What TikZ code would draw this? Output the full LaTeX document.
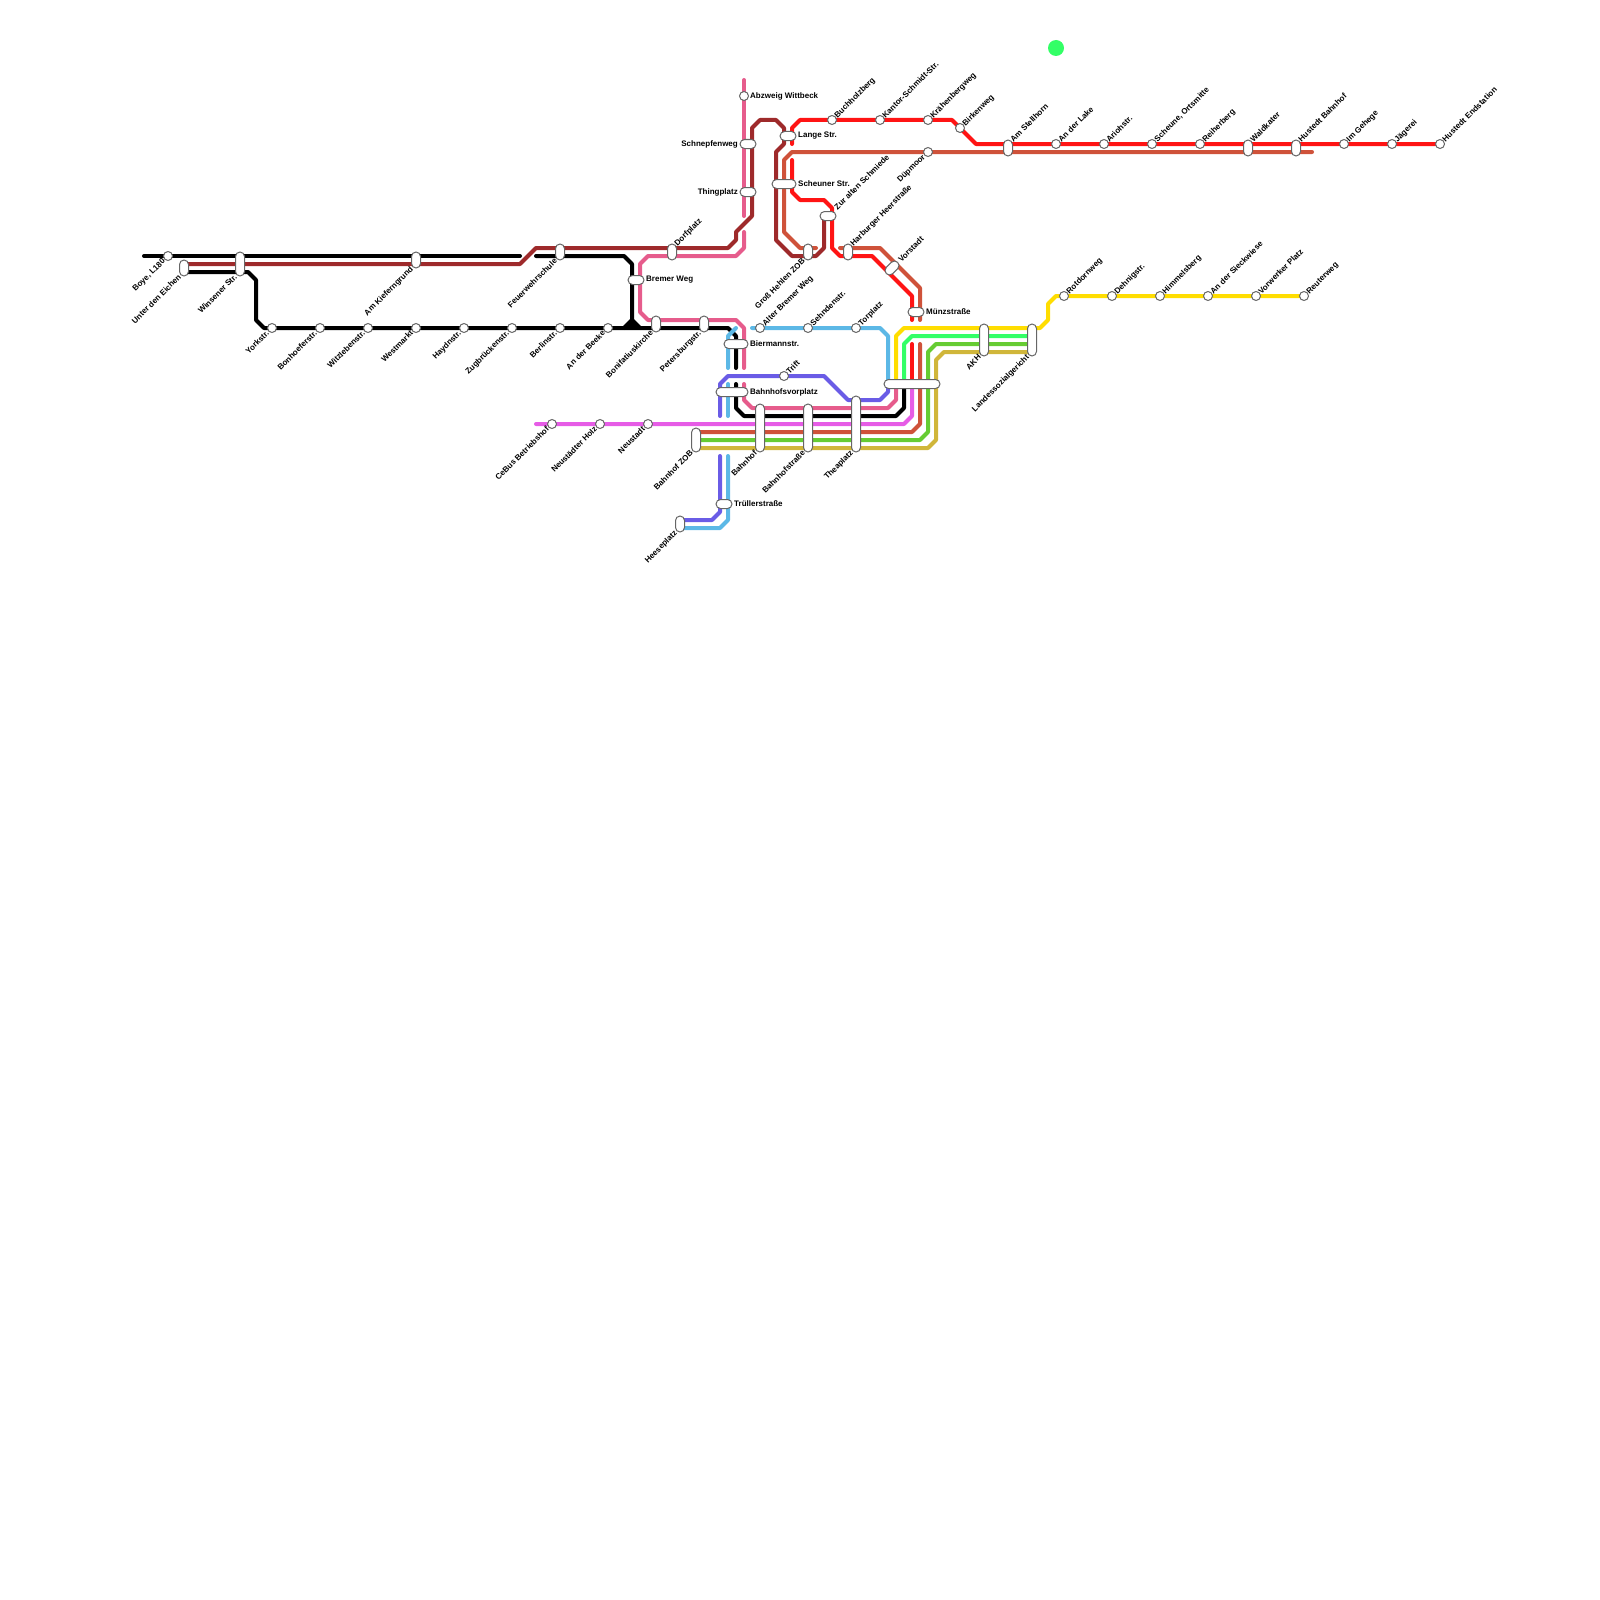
\documentclass[tikz,border=0pt]{standalone}
\usepackage{fontspec}
\setmainfont{Liberation Sans}
\usepackage{xcolor}
\usetikzlibrary{positioning,calc}
\definecolor{lnred}{HTML}{FF1414}
\definecolor{lnbrick}{HTML}{CF523A}
\definecolor{lnbrown}{HTML}{9E2A2B}
\definecolor{lnpink}{HTML}{E65C8C}
\definecolor{lnsky}{HTML}{5CB8E6}
\definecolor{lnviolet}{HTML}{6A5CE6}
\definecolor{lnmagenta}{HTML}{E65CE6}
\definecolor{lnyellow}{HTML}{FFDD00}
\definecolor{lngreen}{HTML}{33FF66}
\definecolor{lnlime}{HTML}{66CC33}
\definecolor{lngold}{HTML}{D0B63A}
\definecolor{stnedge}{HTML}{666666}
\pgfdeclarelayer{lines}
\pgfsetlayers{lines,main}
\tikzset{
  ln/.style={line width=4pt,line cap=round,line join=round},
  stn/.style={circle,draw=stnedge,fill=white,line width=1pt,inner sep=0pt,minimum size=9pt},
  stnh/.style={rectangle,rounded corners=4.5pt,draw=stnedge,fill=white,line width=1pt,inner sep=0pt,minimum height=9pt,minimum width=#1pt},
  stnv/.style={rectangle,rounded corners=4.5pt,draw=stnedge,fill=white,line width=1pt,inner sep=0pt,minimum width=9pt,minimum height=#1pt},
  lbl/.style={font=\bfseries\fontsize{8}{9}\selectfont,inner sep=0pt},
  lblur/.style={lbl,xshift=5.5pt,yshift=1.5pt,rotate=45,anchor=base west},
  lbldl/.style={lbl,xshift=-2.3pt,yshift=-5.7pt,rotate=45,anchor=base east},
  lblr/.style={lbl,anchor=west},
  lbll/.style={lbl,anchor=east},
}
\begin{document}
\begin{tikzpicture}[x=1pt,y=-1pt]
  \useasboundingbox (0,0) rectangle (1600,1600);
  \node[circle,fill=lngreen,minimum size=16pt,inner sep=0pt] (dot) at (1056,48) {};

  % stations on the lower west branch
  \node[stn] (boye) at (168,256) {};
  \node[stnv=16] (eichen) at (184,268) {};
  \node[stnv=24] (winsen) at (240,264) {};
  \node[stnv=16] (kiefern) at (416,260) {};
  \node[stn] (york) at (272,328) {};
  \node[stn] (bonhoefer) at (320,328) {};
  \node[stn] (witzleben) at (368,328) {};
  \node[stn] (westmarkt) at (416,328) {};
  \node[stn] (haydn) at (464,328) {};
  \node[stn] (zugbruecke) at (512,328) {};
  \node[stn] (berlin) at (560,328) {};
  \node[stn] (beeke) at (608,328) {};
  \node[stnv=16] (bonifatius) at (656,324) {};
  \node[stnv=16] (petersburg) at (704,324) {};
  \node[stnv=16] (feuerwehr) at (560,252) {};
  \node[stnv=16] (dorfplatz) at (672,252) {};
  \node[stnh=16] (bremer) at (636,280) {};

  % north
  \node[stn] (wittbeck) at (744,96) {};
  \node[stnh=16] (schnepfen) at (748,144) {};
  \node[stnh=16] (thing) at (748,192) {};
  \node[stnh=16] (lange) at (788,136) {};
  \node[stnh=24] (scheuner) at (784,184) {};
  \node[stnh=16] (schmiede) at (828,216) {};
  \node[stnv=16] (hehlen) at (808,252) {};
  \node[stnv=16] (harburger) at (848,252) {};
  \node[stnh=16,rotate=45] (vorstadt) at (892,268) {};
  \node[stnh=16] (muenz) at (916,312) {};
  \node[stn] (duepmoor) at (928,152) {};
  \node[stn] (buchholz) at (832,120) {};
  \node[stn] (kantor) at (880,120) {};
  \node[stn] (kraehen) at (928,120) {};
  \node[stn] (birken) at (960,128) {};
  \node[stnv=16] (stellhorn) at (1008,148) {};
  \node[stn] (lake) at (1056,144) {};
  \node[stn] (arioh) at (1104,144) {};
  \node[stn] (scheune) at (1152,144) {};
  \node[stn] (reiher) at (1200,144) {};
  \node[stnv=16] (waldkater) at (1248,148) {};
  \node[stnv=16] (hustedtbf) at (1296,148) {};
  \node[stn] (gehege) at (1344,144) {};
  \node[stn] (jaegerei) at (1392,144) {};
  \node[stn] (hustedtend) at (1440,144) {};

  % centre
  \node[stn] (aller) at (760,328) {};
  \node[stn] (sehnde) at (808,328) {};
  \node[stn] (torplatz) at (856,328) {};
  \node[stnh=24] (biermann) at (736,344) {};
  \node[stnh=32] (vorplatz) at (732,392) {};
  \node[stn] (trift) at (784,376) {};
  \node[stnv=48] (bahnhof) at (760,428) {};
  \node[stnv=48] (bahnhofstr) at (808,428) {};
  \node[stnv=56] (thea) at (856,424) {};
  \node[stnv=24] (zob) at (696,440) {};
  \node[stnh=56] (knoten) at (912,384) {};
  \node[stnh=16] (truller) at (724,504) {};
  \node[stnv=16] (heese) at (680,524) {};
  \node[stn] (cebus) at (552,424) {};
  \node[stn] (holz) at (600,424) {};
  \node[stn] (neustadt) at (648,424) {};

  % east
  \node[stnv=32] (akh) at (984,340) {};
  \node[stnv=32] (landes) at (1032,340) {};
  \node[stn] (rotdorn) at (1064,296) {};
  \node[stn] (dehnig) at (1112,296) {};
  \node[stn] (himmel) at (1160,296) {};
  \node[stn] (sieck) at (1208,296) {};
  \node[stn] (vorwerk) at (1256,296) {};
  \node[stn] (reuter) at (1304,296) {};

  % labels
  \node[lbldl] (boyeT) at (boye) {Boye, L180};
  \node[lbldl] (eichenT) at (184,272) {Unter den Eichen};
  \node[lbldl] (winsenT) at (240,272) {Winsener Str.};
  \node[lbldl] (kiefernT) at (416,264) {Am Kieferngrund};
  \node[lbldl] (yorkT) at (york) {Yorkstr.};
  \node[lbldl] (bonhoeferT) at (bonhoefer) {Bonhoeferstr.};
  \node[lbldl] (witzlebenT) at (witzleben) {Witzlebenstr.};
  \node[lbldl] (westmarktT) at (westmarkt) {Westmarkt};
  \node[lbldl] (haydnT) at (haydn) {Haydnstr.};
  \node[lbldl] (zugbrueckeT) at (zugbruecke) {Zugbrückenstr.};
  \node[lbldl] (berlinT) at (berlin) {Berlinstr.};
  \node[lbldl] (beekeT) at (beeke) {An der Beeke};
  \node[lbldl] (bonifatiusT) at (656,328) {Bonifatiuskirche};
  \node[lbldl] (petersburgT) at (704,328) {Petersburgstr.};
  \node[lbldl] (feuerwehrT) at (560,256) {Feuerwehrschule};
  \node[lblur] (dorfplatzT) at (672,248) {Dorfplatz};
  \node[lblr] (bremerT) at (646,280) {Bremer Weg};
  \node[lblr] (wittbeckT) at (750,96) {Abzweig Wittbeck};
  \node[lbll] (schnepfenT) at (738,144) {Schnepfenweg};
  \node[lbll] (thingT) at (738,192) {Thingplatz};
  \node[lblr] (langeT) at (798,136) {Lange Str.};
  \node[lblr] (scheunerT) at (798,184) {Scheuner Str.};
  \node[lblur] (schmiedeT) at (832,212) {Zur alten Schmiede};
  \node[lbldl] (hehlenT) at (808,256) {Groß Hehlen ZOB};
  \node[lblur] (harburgerT) at (848,248) {Harburger Heerstraße};
  \node[lblur] (vorstadtT) at (896,264) {Vorstadt};
  \node[lblr] (muenzT) at (926,312) {Münzstraße};
  \node[lbldl] (duepmoorT) at (duepmoor) {Düpmoor};
  \node[lblur] (buchholzT) at (buchholz) {Buchholzberg};
  \node[lblur] (kantorT) at (kantor) {Kantor-Schmidt-Str.};
  \node[lblur] (kraehenT) at (kraehen) {Krähenbergweg};
  \node[lblur] (birkenT) at (birken) {Birkenweg};
  \node[lblur] (stellhornT) at (1008,144) {Am Stellhorn};
  \node[lblur] (lakeT) at (lake) {An der Lake};
  \node[lblur] (ariohT) at (arioh) {Ariohstr.};
  \node[lblur] (scheuneT) at (scheune) {Scheune, Ortsmitte};
  \node[lblur] (reiherT) at (reiher) {Reiherberg};
  \node[lblur] (waldkaterT) at (1248,144) {Waldkater};
  \node[lblur] (hustedtbfT) at (1296,144) {Hustedt Bahnhof};
  \node[lblur] (gehegeT) at (gehege) {Im Gehege};
  \node[lblur] (jaegereiT) at (jaegerei) {Jägerei};
  \node[lblur] (hustedtendT) at (hustedtend) {Hustedt Endstation};
  \node[lblur] (allerT) at (aller) {Alter Bremer Weg};
  \node[lblur] (sehndeT) at (sehnde) {Sehndenstr.};
  \node[lblur] (torplatzT) at (torplatz) {Torplatz};
  \node[lblr] (biermannT) at (750,344) {Biermannstr.};
  \node[lblr] (vorplatzT) at (750,392) {Bahnhofsvorplatz};
  \node[lblur] (triftT) at (trift) {Trift};
  \node[lbldl] (bahnhofT) at (760,448) {Bahnhof};
  \node[lbldl] (bahnhofstrT) at (808,448) {Bahnhofstraße};
  \node[lbldl] (theaT) at (856,448) {Theaplatz};
  \node[lbldl] (zobT) at (696,448) {Bahnhof ZOB};
  \node[lblr] (trullerT) at (734,504) {Trüllerstraße};
  \node[lbldl] (heeseT) at (680,528) {Heeseplatz};
  \node[lbldl] (cebusT) at (cebus) {CeBus Betriebshof};
  \node[lbldl] (holzT) at (holz) {Neustädter Holz};
  \node[lbldl] (neustadtT) at (neustadt) {Neustadt};
  \node[lbldl] (akhT) at (984,352) {AKH};
  \node[lbldl] (landesT) at (1032,352) {Landessozialgericht};
  \node[lblur] (rotdornT) at (rotdorn) {Rotdornweg};
  \node[lblur] (dehnigT) at (dehnig) {Dehnigstr.};
  \node[lblur] (himmelT) at (himmel) {Himmelsberg};
  \node[lblur] (sieckT) at (sieck) {An der Sieckwiese};
  \node[lblur] (vorwerkT) at (vorwerk) {Vorwerker Platz};
  \node[lblur] (reuterT) at (reuter) {Reuterweg};

  % the lines, under the stations
  \begin{pgfonlayer}{lines}
    \draw[ln,black] (144,256) -- (520,256);
    \draw[ln,black] (184,272) -- (248,272) -- (256,280) -- (256,320) -- (264,328) -- (640,328);
    \draw[ln,black] (536,256) -- (624,256) -- (632,264) -- (632,320) -- (624,328);
    \draw[ln,black] (632,320) -- (640,328) -- (728,328) -- (736,336) -- (736,368);
    \fill[black] (632,320) -- (624,328) -- (640,328) -- cycle;
    \draw[ln,black] (736,384) -- (736,408) -- (744,416) -- (896,416) -- (904,408) -- (904,384);
    \draw[ln,lnbrown] (184,264) -- (520,264) -- (536,248) -- (728,248) -- (736,240) -- (736,232) -- (752,216) -- (752,128) -- (760,120) -- (776,120) -- (784,128) -- (784,144) -- (776,152) -- (776,240) -- (792,256) -- (816,256) -- (824,248) -- (824,216);
    \draw[ln,lnpink] (744,80) -- (744,216);
    \draw[ln,lnpink] (744,232) -- (744,248) -- (736,256) -- (648,256) -- (640,264) -- (640,312) -- (648,320) -- (736,320) -- (744,328) -- (744,368);
    \draw[ln,lnpink] (744,384) -- (744,400) -- (752,408) -- (888,408) -- (896,400) -- (896,384);
    \draw[ln,lnred] (hustedtend.center) -- (976,144) -- (952,120) -- (800,120) -- (792,128) -- (792,144);
    \draw[ln,lnred] (792,160) -- (792,192) -- (800,200) -- (824,200) -- (832,208) -- (832,248) -- (840,256) -- (872,256) -- (912,296) -- (912,320);
    \draw[ln,lnred] (912,344) -- (912,384);
    \draw[ln,lnbrick] (1312,152) -- (792,152) -- (784,160) -- (784,232) -- (800,248) -- (816,248);
    \draw[ln,lnbrick] (840,248) -- (880,248) -- (920,288) -- (920,320);
    \draw[ln,lnbrick] (920,344) -- (920,424) -- (912,432) -- (696,432);
    \draw[ln,lnsky] (752,328) -- (880,328) -- (888,336) -- (888,384);
    \draw[ln,lnsky] (736,328) -- (728,336) -- (728,368);
    \draw[ln,lnsky] (728,384) -- (728,416);
    \draw[ln,lnsky] (728,456) -- (728,520) -- (720,528) -- (680,528);
    \draw[ln,lnviolet] (720,416) -- (720,384) -- (728,376) -- (824,376) -- (848,400) -- (880,400) -- (888,392) -- (888,384);
    \draw[ln,lnviolet] (720,456) -- (720,512) -- (712,520) -- (680,520);
    \draw[ln,lnmagenta] (536,424) -- (904,424) -- (912,416) -- (912,384);
    \draw[ln,lnlime] (696,440) -- (920,440) -- (928,432) -- (928,352) -- (936,344) -- (1032,344);
    \draw[ln,lngold] (696,448) -- (928,448) -- (936,440) -- (936,360) -- (944,352) -- (1032,352);
    \draw[ln,lngreen] (1032,336) -- (912,336) -- (904,344) -- (904,384);
    \draw[ln,lnyellow] (reuter.center) -- (1056,296) -- (1048,304) -- (1048,320) -- (1040,328) -- (904,328) -- (896,336) -- (896,384);
  \end{pgfonlayer}
\end{tikzpicture}
\end{document}
